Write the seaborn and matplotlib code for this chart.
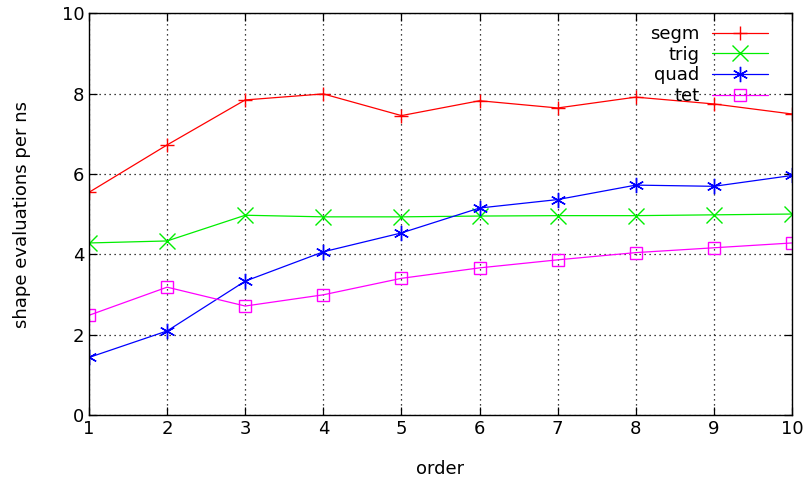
import pandas as pd
import matplotlib
matplotlib.use("Agg")
import matplotlib.pyplot as plt
import seaborn as sns

# Data
order = [1, 2, 3, 4, 5, 6, 7, 8, 9, 10]
segm = [5.54, 6.72, 7.84, 7.99, 7.45, 7.82, 7.64, 7.91, 7.74, 7.49]
trig = [4.28, 4.33, 4.97, 4.93, 4.93, 4.95, 4.96, 4.96, 4.98, 5.00]
quad = [1.43, 2.09, 3.33, 4.06, 4.53, 5.15, 5.36, 5.72, 5.69, 5.96]
tet = [2.48, 3.18, 2.71, 2.99, 3.40, 3.66, 3.86, 4.04, 4.16, 4.28]

names = ["segm", "trig", "quad", "tet"]
series = [segm, trig, quad, tet]
colors = {"segm": "#ff0000", "trig": "#00ee00", "quad": "#0000ff", "tet": "#ff00ff"}
markers = {"segm": "+", "trig": "x", "quad": (6, 2, 0), "tet": "s"}
msizes = {"segm": 10, "trig": 11, "quad": 11, "tet": 9}

sns.set_style("ticks")
plt.rcParams["font.family"] = ["DejaVu Sans"]
plt.rcParams["text.color"] = "black"
plt.rcParams["axes.labelcolor"] = "black"

fig = plt.figure(figsize=(8.09, 4.87), dpi=100)
ax = fig.add_axes([0.110, 0.148, 0.869, 0.825])

for name, vals in zip(names, series):
    df = pd.DataFrame({"order": order, "value": vals})
    sns.lineplot(data=df, x="order", y="value", color=colors[name],
                 marker=markers[name], markersize=msizes[name],
                 linewidth=0.9, ax=ax, label=name)

# gnuplot-like open markers in line colour
for line in ax.lines:
    c = line.get_color()
    line.set_markeredgecolor(c)
    line.set_markerfacecolor("none")
    line.set_markeredgewidth(1.0)

ax.set_xlim(1, 10)
ax.set_ylim(0, 10)
ax.set_xticks(order)
ax.set_yticks([0, 2, 4, 6, 8, 10])
ax.tick_params(direction="in", length=6, width=0.9, labelsize=13,
               top=True, right=True, colors="black")
for s in ax.spines.values():
    s.set_linewidth(1.0)
    s.set_color("black")
ax.grid(True, color="black", linestyle=(0, (1, 3)), linewidth=0.9)
ax.set_axisbelow(True)

ax.set_xlabel("order", fontsize=13, labelpad=16)
ax.set_ylabel("shape evaluations per ns", fontsize=13, labelpad=22)

ax.legend(handles=ax.lines[:4], labels=names, loc="upper right",
          bbox_to_anchor=(0.979, 0.993), markerfirst=False, frameon=False,
          fontsize=13, handlelength=3.1, labelspacing=0.15,
          borderaxespad=0.1, alignment="right", handletextpad=0.7)

fig.savefig("out.png", dpi=100)
